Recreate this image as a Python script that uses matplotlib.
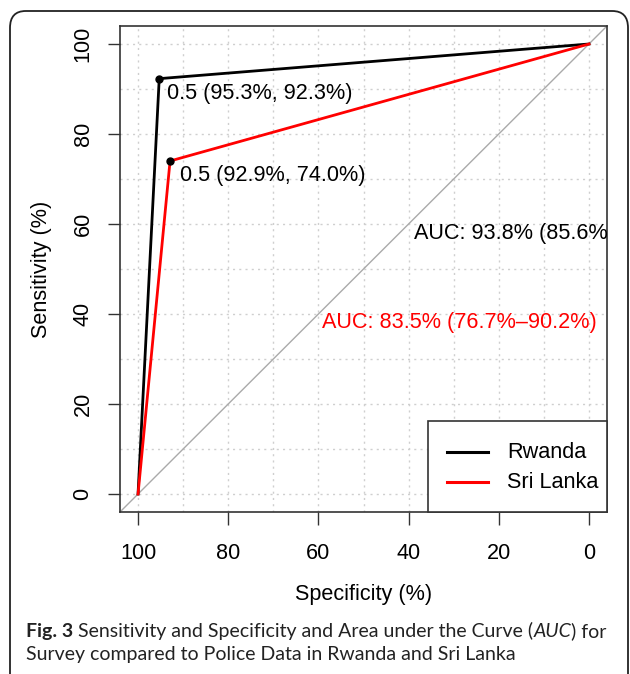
import matplotlib
matplotlib.use("Agg")
import matplotlib.pyplot as plt
from matplotlib.patches import FancyBboxPatch, Rectangle
from matplotlib.lines import Line2D

# ---- data ----
countries = ["Rwanda", "Sri Lanka"]
colors = ["black", "red"]
spec_rw = [100, 95.3, 0]
sens_rw = [0, 92.3, 100]
spec_sl = [100, 92.9, 0]
sens_sl = [0, 74.0, 100]
thr_labels = ["0.5 (95.3%, 92.3%)", "0.5 (92.9%, 74.0%)"]
auc_labels = ["AUC: 93.8% (85.6%\u2013100.0%)", "AUC: 83.5% (76.7%\u201390.2%)"]
ticks = [0, 20, 40, 60, 80, 100]
grid_vals = list(range(0, 101, 10))
caption_bold = "Fig. 3"
caption_parts = [(" Sensitivity and Specificity and Area under the Curve (", "normal"),
                 ("AUC", "italic"), (") for", "normal")]
caption_line2 = "Survey compared to Police Data in Rwanda and Sri Lanka"

plt.rcParams['font.family'] = ['Liberation Sans', 'DejaVu Sans']
FS = 15.6

fig = plt.figure(figsize=(6.3, 6.74), dpi=100)
W, H = 630, 674

def fx(px):
    return px / W

def fy(py):
    return 1 - py / H

# outer rounded border
border = FancyBboxPatch((fx(10), fy(700)), fx(628) - fx(10), fy(11) - fy(700),
                        boxstyle="round,pad=0,rounding_size=0.025",
                        transform=fig.transFigure, fill=False,
                        edgecolor="#222222", linewidth=1.3)
fig.patches.append(border)

ax = fig.add_axes([fx(120), fy(512), fx(607) - fx(120), fy(26) - fy(512)])
ax.set_xlim(104, -4)
ax.set_ylim(-4, 104)

for v in grid_vals:
    ax.axvline(v, color="#cfcfcf", linestyle=(0, (1.5, 3)), linewidth=1, zorder=0)
    ax.axhline(v, color="#cfcfcf", linestyle=(0, (1.5, 3)), linewidth=1, zorder=0)

ax.plot([104, -4], [-4, 104], color="#aaaaaa", linewidth=1, zorder=1)

ax.plot(spec_rw, sens_rw, color=colors[0], linewidth=2.0, zorder=3)
ax.plot(spec_sl, sens_sl, color=colors[1], linewidth=2.0, zorder=3)

ax.plot([spec_rw[1]], [sens_rw[1]], 'o', color="black", markersize=5, zorder=4)
ax.plot([spec_sl[1]], [sens_sl[1]], 'o', color="black", markersize=5, zorder=4)

ax.text(spec_rw[1] - 1.7, sens_rw[1] - 3.3, thr_labels[0], fontsize=FS,
        ha="left", va="center", color="black")
ax.text(spec_sl[1] - 2.2, sens_sl[1] - 3.3, thr_labels[1], fontsize=FS,
        ha="left", va="center", color="black")

ax.text(38.7, 57.9, auc_labels[0], fontsize=FS, ha="left", va="center",
        color=colors[0], clip_on=True)
ax.text(59.1, 38.1, auc_labels[1], fontsize=FS, ha="left", va="center",
        color=colors[1], clip_on=True)

ax.set_xticks(ticks)
ax.set_yticks(ticks)
ax.set_xticklabels([str(t) for t in ticks], fontsize=FS)
ax.set_yticklabels([str(t) for t in ticks], fontsize=FS, rotation=90, va="center")
ax.tick_params(axis="both", direction="out", length=9, width=1, colors="#333333",
               labelcolor="black")
ax.tick_params(axis="x", pad=13)
ax.tick_params(axis="y", pad=10)
for s in ax.spines.values():
    s.set_color("#333333")
    s.set_linewidth(1.2)

ax.set_xlabel("Specificity (%)", fontsize=FS, labelpad=15)
ax.set_ylabel("Sensitivity (%)", fontsize=FS, labelpad=15)

# legend box (manual, positioned in pixels)
lt = ax.transAxes.inverted()
def apx(x, y):
    # figure pixel (from top-left) -> axes coords
    return lt.transform((x, H - y))

x0, y0 = apx(428, 512)
x1, y1 = apx(607, 421)
ax.add_patch(Rectangle((x0, y0), x1 - x0, y1 - y0, transform=ax.transAxes,
                       facecolor="white", edgecolor="#333333", linewidth=1.2,
                       zorder=5, clip_on=False))
for i, (name, c) in enumerate(zip(countries, colors)):
    yy = 452 + 30 * i
    (la, lb), (ra, rb) = apx(447, yy), apx(488, yy)
    ax.add_line(Line2D([la, ra], [lb, rb], color=c, linewidth=2.2,
                       transform=ax.transAxes, zorder=6, clip_on=False))
    tx, ty = apx(507, yy)
    ax.text(tx, ty, name, transform=ax.transAxes, fontsize=FS, ha="left",
            va="center", zorder=6)

# caption
cap_font = ['Lato', 'DejaVu Sans']
renderer = fig.canvas.get_renderer()
probe = fig.text(0, 0, caption_line2, fontsize=14, family=cap_font)
w = probe.get_window_extent(renderer).width
probe.remove()
cfs = 14 * 491.0 / w

x = 26
t = fig.text(fx(x), fy(637), caption_bold, fontsize=cfs, fontweight="bold",
             family=cap_font, ha="left", va="baseline", color="#222222")
x += t.get_window_extent(renderer).width
for txt, style in caption_parts:
    t = fig.text(fx(x), fy(637), txt, fontsize=cfs, style=style,
                 family=cap_font, ha="left", va="baseline", color="#222222")
    x += t.get_window_extent(renderer).width
fig.text(fx(26), fy(660), caption_line2, fontsize=cfs, family=cap_font,
         ha="left", va="baseline", color="#222222")

fig.savefig("out.png", dpi=100)
